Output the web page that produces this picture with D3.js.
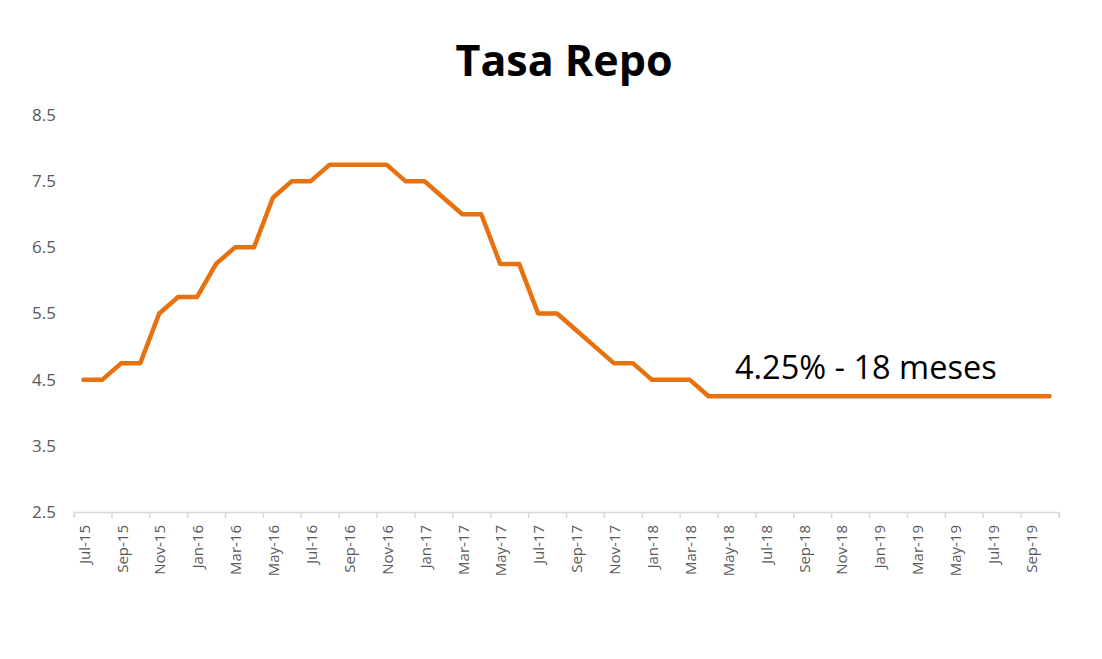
<!DOCTYPE html>
<html>
<head>
<meta charset="utf-8">
<script src="https://cdn.jsdelivr.net/npm/d3@7"></script>
<style>
  body { margin: 0; background: #fff; }
  svg { display: block; }
  svg text { font-family: "Open Sans", "Noto Sans", sans-serif; }
</style>
</head>
<body>
<div id="chart"></div>
<script>
const title = "Tasa Repo";
const note = "4.25% - 18 meses";

// one entry per month, Jul-15 .. Oct-19
const months = [
  "Jul-15","Aug-15","Sep-15","Oct-15","Nov-15","Dec-15",
  "Jan-16","Feb-16","Mar-16","Apr-16","May-16","Jun-16","Jul-16","Aug-16","Sep-16","Oct-16","Nov-16","Dec-16",
  "Jan-17","Feb-17","Mar-17","Apr-17","May-17","Jun-17","Jul-17","Aug-17","Sep-17","Oct-17","Nov-17","Dec-17",
  "Jan-18","Feb-18","Mar-18","Apr-18","May-18","Jun-18","Jul-18","Aug-18","Sep-18","Oct-18","Nov-18","Dec-18",
  "Jan-19","Feb-19","Mar-19","Apr-19","May-19","Jun-19","Jul-19","Aug-19","Sep-19","Oct-19"
];
const repo = [
  4.50,4.50,4.75,4.75,5.50,5.75,
  5.75,6.25,6.50,6.50,7.25,7.50,7.50,7.75,7.75,7.75,7.75,7.50,
  7.50,7.25,7.00,7.00,6.25,6.25,5.50,5.50,5.25,5.00,4.75,4.75,
  4.50,4.50,4.50,4.25,4.25,4.25,4.25,4.25,4.25,4.25,4.25,4.25,
  4.25,4.25,4.25,4.25,4.25,4.25,4.25,4.25,4.25,4.25
];
const yTicks = [2.5, 3.5, 4.5, 5.5, 6.5, 7.5, 8.5];

const W = 1102, H = 659;
const svg = d3.select("#chart").append("svg")
  .attr("width", W).attr("height", H);

const x = d3.scaleBand().domain(months).range([74, 1059]).padding(0);
const y = d3.scaleLinear().domain([2.5, 8.5]).range([512, 115]);
const bw = x.bandwidth();

// title
svg.append("text")
  .attr("x", 564).attr("y", 76)
  .attr("text-anchor", "middle")
  .style("font-size", "43px").style("font-weight", "bold")
  .attr("fill", "#000")
  .text(title);

// y axis (labels only)
const yAxis = svg.append("g")
  .attr("transform", "translate(74,0)")
  .call(d3.axisLeft(y).tickValues(yTicks).tickSize(0).tickPadding(18).tickFormat(d3.format(".1f")));
yAxis.select(".domain").remove();
yAxis.selectAll("text")
  .attr("fill", "#595959")
  .style("font-family", "'Open Sans', sans-serif")
  .style("font-size", "17px");

// x axis, label every second month, ticks at category boundaries
const shown = months.filter((m, i) => i % 2 === 0);
const xAxis = svg.append("g")
  .attr("transform", "translate(0,512)")
  .call(d3.axisBottom(x).tickValues(shown).tickSizeOuter(0).tickSize(6));
xAxis.select(".domain").attr("stroke", "#d9d9d9").attr("stroke-width", 1.5);
xAxis.selectAll(".tick line")
  .attr("x1", -bw / 2).attr("x2", -bw / 2)
  .attr("stroke", "#d9d9d9").attr("stroke-width", 1.5);
xAxis.append("line")
  .attr("x1", x.range()[1]).attr("x2", x.range()[1])
  .attr("y1", 0).attr("y2", 6)
  .attr("stroke", "#d9d9d9").attr("stroke-width", 1.5);
xAxis.selectAll(".tick text")
  .attr("transform", "rotate(-90)")
  .attr("text-anchor", "end")
  .attr("x", -13).attr("y", 1).attr("dy", "0.35em")
  .attr("fill", "#595959")
  .style("font-family", "'Open Sans', sans-serif")
  .style("font-size", "15px");

// line
const line = d3.line()
  .x((d, i) => x(months[i]) + bw / 2)
  .y(d => y(d));
svg.append("path")
  .datum(repo)
  .attr("fill", "none")
  .attr("stroke", "#E8710F")
  .attr("stroke-width", 4.5)
  .attr("stroke-linejoin", "round")
  .attr("stroke-linecap", "round")
  .attr("d", line);

// annotation
svg.append("text")
  .attr("x", 735).attr("y", 379)
  .style("font-size", "32.5px")
  .attr("fill", "#000")
  .text(note);
</script>
</body>
</html>
